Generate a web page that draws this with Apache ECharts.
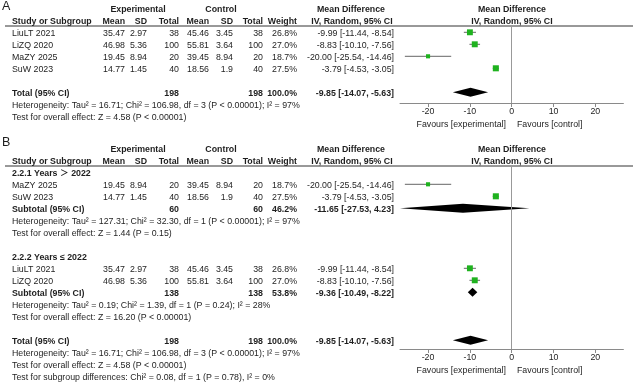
<!DOCTYPE html>
<html>
<head>
<meta charset="utf-8">
<script src="https://cdn.jsdelivr.net/npm/echarts@6/dist/echarts.min.js"></script>
<style>
  html, body { margin: 0; padding: 0; background: #fff; }
  #chart { width: 633px; height: 382px; }
</style>
</head>
<body>
<div id="chart"></div>
<script>
// ---- data ----
const studyNames = ["LiuLT 2021", "LiZQ 2020", "MaZY 2025", "SuW 2023"];
const expMean = [35.47, 46.98, 19.45, 14.77];
const expSD = [2.97, 5.36, 8.94, 1.45];
const expN = [38, 100, 20, 40];
const ctlMean = [45.46, 55.81, 39.45, 18.56];
const ctlSD = [3.45, 3.64, 8.94, 1.9];
const ctlN = [38, 100, 20, 40];
const weights = [26.8, 27.0, 18.7, 27.5];
const md = [-9.99, -8.83, -20.0, -3.79];
const mdLow = [-11.44, -10.1, -25.54, -4.53];
const mdHigh = [-8.54, -7.56, -14.46, -3.05];

// pooled results: [estimate, low, high]
const totalMD = [-9.85, -14.07, -5.63];
const totalN = [198, 198];
const totalWeight = 100.0;
const totalHet = "Heterogeneity: Tau² = 16.71; Chi² = 106.98, df = 3 (P < 0.00001); I² = 97%";
const totalTest = "Test for overall effect: Z = 4.58 (P < 0.00001)";

const sub1Label = "2.2.1 Years ＞ 2022";
const sub1Studies = [2, 3];
const sub1MD = [-11.65, -27.53, 4.23];
const sub1N = [60, 60];
const sub1Weight = 46.2;
const sub1Het = "Heterogeneity: Tau² = 127.31; Chi² = 32.30, df = 1 (P < 0.00001); I² = 97%";
const sub1Test = "Test for overall effect: Z = 1.44 (P = 0.15)";

const sub2Label = "2.2.2 Years ≤ 2022";
const sub2Studies = [0, 1];
const sub2MD = [-9.36, -10.49, -8.22];
const sub2N = [138, 138];
const sub2Weight = 53.8;
const sub2Het = "Heterogeneity: Tau² = 0.19; Chi² = 1.39, df = 1 (P = 0.24); I² = 28%";
const sub2Test = "Test for overall effect: Z = 16.20 (P < 0.00001)";

const subgroupTest = "Test for subgroup differences: Chi² = 0.08, df = 1 (P = 0.78), I² = 0%";

const tickValues = [-20, -10, 0, 10, 20];
const X_EXT = 26.7;

// ---- layout ----
const FONT = '"Liberation Sans", Arial, "Noto Sans CJK SC", sans-serif';
const FS = 8.8;
const INK = "#1e1e1e";
const PITCH = 12;
const A_ROW0 = 34;
const B_ROW0 = 174;
const A_AXIS = 103;
const B_AXIS = 349;
const COL = { name: 12, eMean: 125, eSD: 147, eN: 179, cMean: 209, cSD: 233, cN: 263, w: 297, md: 394, mdHead: 352, plot: 512 };

const fmt2 = (v) => v.toFixed(2);
const ciText = (e, l, h) => `${fmt2(e)} [${fmt2(l)}, ${fmt2(h)}]`;

const gfx = [];
function txt(x, y, s, align, bold, size) {
  gfx.push({
    type: "text", x, y, silent: true,
    style: {
      text: s, align: align || "left", verticalAlign: "middle",
      font: (bold ? "bold " : "") + (size || FS) + "px " + FONT, fill: INK,
    },
  });
}

function headers(row0) {
  const y1 = row0 - 2 * PITCH, y2 = row0 - PITCH;
  txt(138, y1, "Experimental", "center", true);
  txt(221, y1, "Control", "center", true);
  txt(351, y1, "Mean Difference", "center", true);
  txt(COL.plot, y1, "Mean Difference", "center", true);
  txt(COL.name, y2, "Study or Subgroup", "left", true);
  txt(COL.eMean, y2, "Mean", "right", true);
  txt(COL.eSD, y2, "SD", "right", true);
  txt(COL.eN, y2, "Total", "right", true);
  txt(COL.cMean, y2, "Mean", "right", true);
  txt(COL.cSD, y2, "SD", "right", true);
  txt(COL.cN, y2, "Total", "right", true);
  txt(COL.w, y2, "Weight", "right", true);
  txt(COL.mdHead, y2, "IV, Random, 95% CI", "center", true);
  txt(COL.plot, y2, "IV, Random, 95% CI", "center", true);
  gfx.push({
    type: "line", silent: true,
    shape: { x1: 5, y1: row0 - 8, x2: 633, y2: row0 - 8 },
    style: { stroke: "#333", lineWidth: 1 },
  });
}

function studyRow(y, i) {
  txt(COL.name, y, studyNames[i]);
  txt(COL.eMean, y, String(expMean[i]), "right");
  txt(COL.eSD, y, String(expSD[i]), "right");
  txt(COL.eN, y, String(expN[i]), "right");
  txt(COL.cMean, y, String(ctlMean[i]), "right");
  txt(COL.cSD, y, String(ctlSD[i]), "right");
  txt(COL.cN, y, String(ctlN[i]), "right");
  txt(COL.w, y, weights[i].toFixed(1) + "%", "right");
  txt(COL.md, y, ciText(md[i], mdLow[i], mdHigh[i]), "right");
}

function pooledRow(y, label, n, w, ci) {
  txt(COL.name, y, label, "left", true);
  txt(COL.eN, y, String(n[0]), "right", true);
  txt(COL.cN, y, String(n[1]), "right", true);
  txt(COL.w, y, w.toFixed(1) + "%", "right", true);
  txt(COL.md, y, ciText(ci[0], ci[1], ci[2]), "right", true);
}

function favours(axisY) {
  txt(COL.plot - 6, axisY + 22, "Favours [experimental]", "right");
  txt(COL.plot + 5, axisY + 22, "Favours [control]", "left");
}

// panel A
const yA = (r) => A_ROW0 + PITCH * r;
txt(2, 7, "A", "left", false, 12.5);
headers(A_ROW0);
const rowsA = [0, 1, 2, 3];
rowsA.forEach((r, i) => studyRow(yA(r), i));
pooledRow(yA(5), "Total (95% CI)", totalN, totalWeight, totalMD);
txt(COL.name, yA(6), totalHet);
txt(COL.name, yA(7), totalTest);
favours(A_AXIS);

// panel B
const yB = (r) => B_ROW0 + PITCH * r;
txt(2, 143, "B", "left", false, 12.5);
headers(B_ROW0);
txt(COL.name, yB(0), sub1Label, "left", true);
sub1Studies.forEach((s, k) => studyRow(yB(1 + k), s));
pooledRow(yB(3), "Subtotal (95% CI)", sub1N, sub1Weight, sub1MD);
txt(COL.name, yB(4), sub1Het);
txt(COL.name, yB(5), sub1Test);
txt(COL.name, yB(7), sub2Label, "left", true);
sub2Studies.forEach((s, k) => studyRow(yB(8 + k), s));
pooledRow(yB(10), "Subtotal (95% CI)", sub2N, sub2Weight, sub2MD);
txt(COL.name, yB(11), sub2Het);
txt(COL.name, yB(12), sub2Test);
pooledRow(yB(14), "Total (95% CI)", totalN, totalWeight, totalMD);
txt(COL.name, yB(15), totalHet);
txt(COL.name, yB(16), totalTest);
txt(COL.name, yB(17), subgroupTest);
favours(B_AXIS);

// ---- chart ----
const MARK_DY = -1.7;

function renderStudy(params, api) {
  const row = api.value(1);
  const c = api.coord([api.value(0), row]);
  const l = api.coord([api.value(2), row]);
  const h = api.coord([api.value(3), row]);
  const s = api.value(4) * 0.22;
  const y = c[1] + MARK_DY;
  return {
    type: "group",
    children: [
      { type: "line", shape: { x1: l[0], y1: y, x2: h[0], y2: y }, style: { stroke: "#666", lineWidth: 1 } },
      { type: "rect", shape: { x: c[0] - s / 2, y: y - s / 2, width: s, height: s }, style: { fill: "#1fb21f" } },
    ],
  };
}

function renderDiamond(params, api) {
  const row = api.value(1);
  const c = api.coord([api.value(0), row]);
  const l = api.coord([Math.max(api.value(2), -X_EXT), row]);
  const h = api.coord([Math.min(api.value(3), X_EXT), row]);
  const y = c[1] + MARK_DY;
  const hh = 4.5;
  return {
    type: "polygon",
    shape: { points: [[l[0], y], [c[0], y - hh], [h[0], y], [c[0], y + hh]] },
    style: { fill: "#000" },
  };
}

function xAxisFor(gridIndex) {
  return {
    type: "value", gridIndex, min: -X_EXT, max: X_EXT, position: "bottom",
    axisLine: { show: true, onZero: false, lineStyle: { color: "#8a8a8a", width: 1 } },
    axisTick: { show: true, length: 4, customValues: tickValues, lineStyle: { color: "#8a8a8a" } },
    axisLabel: { customValues: tickValues, fontSize: FS, fontFamily: FONT, color: INK, margin: 4.5 },
    splitLine: { show: false },
  };
}

function yAxisFor(gridIndex, row0, top, bottom) {
  return {
    type: "value", gridIndex, inverse: true, show: false,
    min: (top - row0) / PITCH, max: (bottom - row0) / PITCH,
  };
}

const zeroLine = {
  silent: true, symbol: "none", label: { show: false },
  lineStyle: { color: "#999", type: "solid", width: 1 },
  data: [{ xAxis: 0 }],
};

const A_TOP = A_ROW0 - 8, B_TOP = B_ROW0 - 8;

const option = {
  animation: false,
  backgroundColor: "#fff",
  grid: [
    { left: 400, right: 9.6, top: A_TOP, height: A_AXIS - A_TOP },
    { left: 400, right: 9.6, top: B_TOP, height: B_AXIS - B_TOP },
  ],
  xAxis: [xAxisFor(0), xAxisFor(1)],
  yAxis: [yAxisFor(0, A_ROW0, A_TOP, A_AXIS), yAxisFor(1, B_ROW0, B_TOP, B_AXIS)],
  series: [
    {
      type: "custom", xAxisIndex: 0, yAxisIndex: 0, renderItem: renderStudy,
      data: rowsA.map((r, i) => [md[i], r, mdLow[i], mdHigh[i], weights[i]]),
      markLine: zeroLine, z: 3,
    },
    {
      type: "custom", xAxisIndex: 0, yAxisIndex: 0, renderItem: renderDiamond,
      data: [[totalMD[0], 5, totalMD[1], totalMD[2]]], z: 3,
    },
    {
      type: "custom", xAxisIndex: 1, yAxisIndex: 1, renderItem: renderStudy,
      data: [
        ...sub1Studies.map((s, k) => [md[s], 1 + k, mdLow[s], mdHigh[s], weights[s]]),
        ...sub2Studies.map((s, k) => [md[s], 8 + k, mdLow[s], mdHigh[s], weights[s]]),
      ],
      markLine: zeroLine, z: 3,
    },
    {
      type: "custom", xAxisIndex: 1, yAxisIndex: 1, renderItem: renderDiamond,
      data: [
        [sub1MD[0], 3, sub1MD[1], sub1MD[2]],
        [sub2MD[0], 10, sub2MD[1], sub2MD[2]],
        [totalMD[0], 14, totalMD[1], totalMD[2]],
      ],
      z: 3,
    },
  ],
  graphic: gfx,
};

const chart = echarts.init(document.getElementById("chart"), null, { renderer: "canvas" });
chart.setOption(option);
</script>
</body>
</html>
